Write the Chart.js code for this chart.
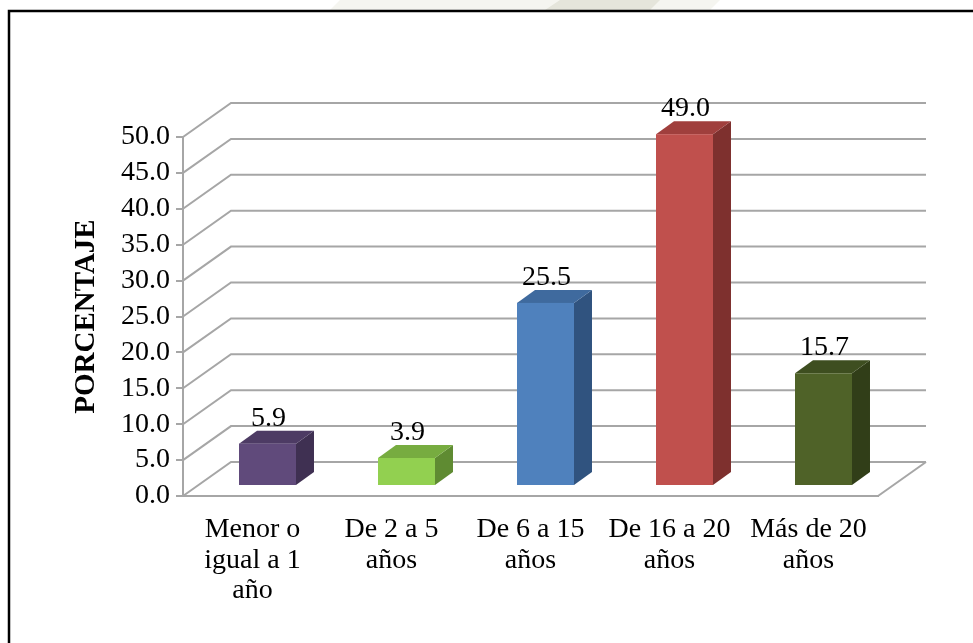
<!DOCTYPE html>
<html>
<head>
<meta charset="utf-8">
<script src="https://cdn.jsdelivr.net/npm/chart.js@4/dist/chart.umd.min.js"></script>
<style>
  html, body { margin: 0; padding: 0; background: #ffffff; }
  #wrap { width: 973px; height: 643px; position: relative; }
</style>
</head>
<body>
<div id="wrap"><canvas id="c" width="973" height="643"></canvas></div>
<script>
// ---- data ----
const categories = [
  ["Menor o", "igual a 1", "año"],
  ["De 2 a 5", "años"],
  ["De 6 a 15", "años"],
  ["De 16 a 20", "años"],
  ["Más de 20", "años"]
];
const porcentaje = [5.9, 3.9, 25.5, 49.0, 15.7];
const yTicksMin = 0;
const yTicksMax = 50;
const yTickStep = 5;
const axisTitle = "PORCENTAJE";

// ---- styles ----
const frontColors = ["#604a7b", "#92d050", "#4f81bd", "#c0504d", "#4f6228"];
const topColors   = ["#4d3b64", "#77ac40", "#3f6a9e", "#a03f3d", "#3e4e20"];
const sideColors  = ["#3f3052", "#5f8b32", "#30537f", "#7e302e", "#313e18"];
const gridColor = "#a6a6a6";
const SERIF = "'Liberation Serif', 'Times New Roman', serif";

// 3D geometry (pixels)
const WALL_DX = 48, WALL_DY = -34;     // depth of the back wall
const BAR_DX0 = 15, BAR_DY0 = -10;     // bar front face depth shift
const BAR_SX = 18, BAR_SY = -13;       // bar side depth

const threeD = {
  id: 'threeD',
  beforeDraw(chart) {
    const ctx = chart.ctx;
    ctx.save();
    ctx.fillStyle = '#ffffff';
    ctx.fillRect(0, 0, chart.width, chart.height);
    // faint watermark strip at the top
    ctx.fillStyle = 'rgba(215,214,195,0.25)';
    ctx.beginPath();
    ctx.moveTo(340, 0); ctx.lineTo(720, 0); ctx.lineTo(710, 10); ctx.lineTo(330, 10); ctx.closePath();
    ctx.fill();
    ctx.fillStyle = 'rgba(200,200,180,0.35)';
    ctx.beginPath();
    ctx.moveTo(560, 0); ctx.lineTo(660, 0); ctx.lineTo(650, 10); ctx.lineTo(545, 10); ctx.closePath();
    ctx.fill();
    // frame
    ctx.strokeStyle = '#000000';
    ctx.lineWidth = 2.5;
    ctx.beginPath();
    ctx.moveTo(9, chart.height + 5);
    ctx.lineTo(9, 11);
    ctx.lineTo(chart.width + 5, 11);
    ctx.stroke();
    ctx.restore();
  },
  beforeDatasetsDraw(chart) {
    const ctx = chart.ctx;
    const ys = chart.scales.y;
    const area = chart.chartArea;
    ctx.save();
    ctx.strokeStyle = gridColor;
    ctx.lineWidth = 2;
    ctx.lineCap = 'butt';
    ys.ticks.forEach(t => {
      const y = ys.getPixelForValue(t.value);
      ctx.beginPath();
      ctx.moveTo(area.left, y);
      ctx.lineTo(area.left + WALL_DX, y + WALL_DY);
      ctx.lineTo(area.right + WALL_DX, y + WALL_DY);
      ctx.stroke();
    });
    // floor right edge
    const y0 = ys.getPixelForValue(0);
    ctx.beginPath();
    ctx.moveTo(area.right, y0);
    ctx.lineTo(area.right + WALL_DX, y0 + WALL_DY);
    ctx.stroke();
    ctx.restore();
  },
  afterDatasetsDraw(chart) {
    const ctx = chart.ctx;
    const meta = chart.getDatasetMeta(0);
    const data = chart.data.datasets[0].data;
    ctx.save();
    meta.data.forEach((el, i) => {
      const p = el.getProps(['x', 'y', 'base', 'width'], true);
      const l = p.x - p.width / 2 + BAR_DX0;
      const r = p.x + p.width / 2 + BAR_DX0;
      const t = p.y + BAR_DY0;
      const b = p.base + BAR_DY0;
      // side
      ctx.fillStyle = sideColors[i];
      ctx.beginPath();
      ctx.moveTo(r, t); ctx.lineTo(r + BAR_SX, t + BAR_SY);
      ctx.lineTo(r + BAR_SX, b + BAR_SY); ctx.lineTo(r, b); ctx.closePath();
      ctx.fill();
      // top
      ctx.fillStyle = topColors[i];
      ctx.beginPath();
      ctx.moveTo(l, t); ctx.lineTo(r, t);
      ctx.lineTo(r + BAR_SX, t + BAR_SY); ctx.lineTo(l + BAR_SX, t + BAR_SY); ctx.closePath();
      ctx.fill();
      // front
      ctx.fillStyle = frontColors[i];
      ctx.fillRect(l, t, r - l, b - t);
      // value label
      ctx.fillStyle = '#000000';
      ctx.font = "28px " + SERIF;
      ctx.textAlign = 'center';
      ctx.textBaseline = 'alphabetic';
      ctx.fillText(Number(data[i]).toFixed(1), (l + r) / 2 + 1, t + BAR_SY - 5);
    });
    ctx.restore();
  }
};

new Chart(document.getElementById('c'), {
  type: 'bar',
  data: {
    labels: categories,
    datasets: [{
      label: axisTitle,
      data: porcentaje,
      backgroundColor: 'rgba(0,0,0,0)',
      borderWidth: 0,
      barPercentage: 0.41,
      categoryPercentage: 1.0
    }]
  },
  options: {
    responsive: false,
    animation: false,
    devicePixelRatio: 1,
    layout: { padding: { left: 0, top: 137, right: 95, bottom: 0 } },
    plugins: {
      legend: { display: false },
      tooltip: { enabled: false },
      title: { display: false }
    },
    scales: {
      x: {
        grid: { display: false, drawTicks: false },
        border: { display: true, color: gridColor, width: 2 },
        ticks: {
          color: '#000000',
          font: { family: SERIF, size: 28, lineHeight: 1.1 },
          padding: 18,
          maxRotation: 0,
          autoSkip: false
        },
        afterFit(scale) { scale.height = 147; }
      },
      y: {
        min: yTicksMin,
        max: yTicksMax,
        grid: { display: true, drawOnChartArea: false, drawTicks: true, tickLength: 7, color: gridColor, lineWidth: 2 },
        border: { display: true, color: gridColor, width: 2 },
        ticks: {
          stepSize: yTickStep,
          autoSkip: false,
          maxTicksLimit: 20,
          color: '#000000',
          font: { family: SERIF, size: 28, lineHeight: 1.0 },
          padding: 6,
          callback: v => Number(v).toFixed(1)
        },
        title: {
          display: true,
          text: axisTitle,
          color: '#000000',
          font: { family: SERIF, size: 29, weight: 'bold', lineHeight: 1.2 },
          padding: { top: 69, bottom: 0 }
        },
        afterFit(scale) { scale.width = 183; }
      }
    }
  },
  plugins: [threeD]
});
</script>
</body>
</html>
